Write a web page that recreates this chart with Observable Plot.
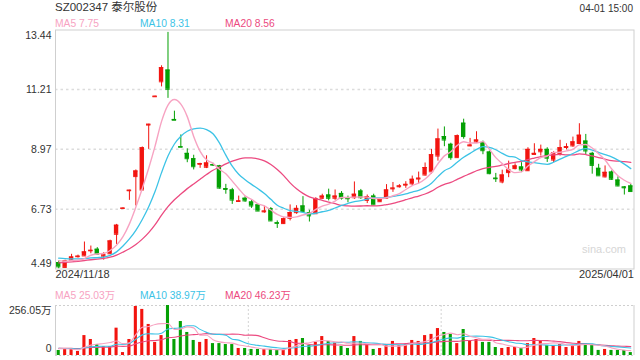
<!DOCTYPE html>
<html><head><meta charset="utf-8">
<script src="https://cdn.jsdelivr.net/npm/d3@7"></script>
<script src="https://cdn.jsdelivr.net/npm/@observablehq/plot@0.6"></script>
<style>
body{margin:0;background:#fff;}
#wrap{position:relative;width:640px;height:360px;overflow:hidden;font-family:"Liberation Sans",Arial,"Noto Sans CJK SC",sans-serif;}
.t{position:absolute;white-space:nowrap;line-height:1;}
#main,#vol{position:absolute;left:0;}
#main{top:0;} #vol{top:300px;}
</style></head><body><div id="wrap">
<div class="t" id="title" style="left:55px;top:2px;font-size:11.5px;color:#333;"></div>
<div class="t" id="time" style="right:7px;top:3.5px;font-size:10px;color:#333;"></div>
<div id="main"></div>
<div id="vol"></div>
<div class="t" id="wm" style="left:582px;top:244px;font-size:11px;color:#d6d6d6;"></div>
</div>
<script>
const title = "SZ002347 泰尔股份";
const timeLabel = "04-01 15:00";
const watermark = "sina.com";
const dateLabels = ["2024/11/18", "2025/04/01"];
const priceTicks = [13.44, 11.21, 8.97, 6.73, 4.49];
const volTicks = [256.05, 0];
const volTickLabels = ["256.05万", "0"];
const maNames = ["MA5", "MA10", "MA20"];
const maPeriods = [5, 10, 20];
const maPriceLegend = ["7.75", "8.31", "8.56"];
const maVolLegend = ["25.03万", "38.97万", "46.23万"];
const maColors = ["#f7a3c2", "#3cc3e6", "#ec4a80"];

const open = [4.73,4.55,4.82,4.95,4.98,5.17,5.23,4.97,5.06,5.79,6.76,7.42,7.95,7.45,9.88,10.94,11.50,11.94,10.09,9.07,8.82,8.62,8.41,8.30,8.40,8.35,7.50,7.45,7.02,7.14,7.00,6.89,6.63,6.75,6.22,6.19,6.39,6.60,6.85,6.59,6.56,7.14,7.26,7.14,7.32,7.14,7.16,7.41,7.06,7.22,7.01,7.14,7.49,7.57,7.63,7.68,7.86,8.01,8.13,8.72,9.45,9.16,8.66,9.95,9.10,9.24,9.23,8.87,7.89,7.75,8.10,8.25,8.31,8.17,8.78,8.88,8.97,8.57,8.82,9.04,9.10,9.19,9.28,8.82,8.26,7.94,8.12,7.82,7.56,7.60];
const high = [4.80,4.82,5.04,5.01,5.50,5.35,5.29,5.10,5.57,6.16,6.78,7.44,8.20,9.06,9.91,10.96,12.10,13.35,10.40,9.51,8.99,8.75,8.45,8.73,8.45,8.37,7.66,7.51,7.22,7.20,7.07,6.91,6.84,6.79,6.29,6.41,6.89,6.86,7.20,6.69,7.16,7.29,7.48,7.45,7.39,7.22,7.75,7.47,7.26,7.29,7.12,7.65,7.73,7.65,7.76,7.97,8.12,8.46,8.97,9.73,9.81,9.20,9.51,10.10,9.38,9.63,9.28,8.91,8.07,8.19,8.53,8.43,8.47,9.03,9.18,9.13,9.03,8.88,9.31,9.18,9.43,9.93,9.53,8.86,8.41,8.35,8.16,7.94,7.58,7.66];
const low = [4.50,4.52,4.80,4.90,4.97,5.06,5.01,4.82,5.04,5.41,6.75,7.06,6.85,7.45,8.97,10.94,11.31,10.88,10.06,9.04,8.47,8.20,8.26,8.25,8.33,7.48,7.29,6.91,7.01,6.99,6.76,6.64,6.58,6.27,6.01,6.16,6.29,6.54,6.60,6.25,6.54,7.10,7.04,7.06,7.07,6.97,7.10,7.10,6.94,6.89,6.99,7.10,7.36,7.52,7.51,7.60,7.68,7.97,8.04,8.53,9.07,8.56,8.64,9.35,9.07,9.20,8.77,8.02,7.73,7.68,7.91,8.20,8.10,8.15,8.76,8.72,8.48,8.47,8.72,8.95,9.05,9.16,8.75,8.04,7.98,7.90,7.81,7.57,7.26,7.39];
const close = [4.57,4.79,4.94,4.97,5.13,5.19,5.04,5.02,5.54,6.13,6.77,7.44,8.16,9.03,9.91,10.96,12.03,11.22,10.06,9.05,8.62,8.32,8.44,8.46,8.38,7.52,7.47,7.07,7.04,7.04,6.85,6.66,6.66,6.29,6.20,6.37,6.60,6.76,6.64,6.48,7.12,7.22,7.14,7.22,7.14,7.12,7.29,7.16,7.20,6.89,7.10,7.45,7.52,7.60,7.66,7.85,7.89,8.29,8.77,9.36,9.32,8.66,9.48,9.45,9.13,9.32,8.92,8.06,7.87,8.01,8.20,8.35,8.20,8.97,8.82,8.97,8.64,8.85,9.03,9.07,9.25,9.50,8.91,8.37,7.98,8.11,7.85,7.60,7.53,7.39];
const volume = [25.6,30.7,30.7,20.5,102,82,56,46,46,140,15,82,251,236,159,67,102,256.05,82,174,118,77,67,82,61,61,56,56,36,36,31,31,31,31,26,31,77,82,87,51,67,97,72,63,46,36,97,72,51,31,36,51,72,51,56,77,72,102,108,138,118,108,61,133,72,82,67,67,41,36,41,41,36,61,87,72,51,51,56,41,51,72,61,51,26,31,26,26,26,15];
const priorCloses = [4.52,4.55,4.50,4.58,4.60,4.53,4.57,4.55,4.54,4.56,4.95,5.02,4.98,5.03,4.97,4.90,4.85,4.88,4.81];
const priorVolumes = [38,42,35,31,40,44,36,33,39,41,37,34,45,38,36,32,40,43,35];

const RED = "#f2140f", GREEN = "#04a004";
const font = '"Liberation Sans",Arial,"Noto Sans CJK SC",sans-serif';

function movingAvg(arr, prior, n) {
  const all = prior.concat(arr);
  return arr.map((_, i) => d3.mean(all.slice(i + prior.length - n + 1, i + prior.length + 1)));
}

const data = open.map((o, i) => ({
  i, open: o, high: high[i], low: low[i], close: close[i], vol: volume[i],
  color: close[i] >= o ? RED : GREEN
}));
const maSeries = [];
const volMaSeries = [];
maPeriods.forEach((n, k) => {
  const m = movingAvg(close, priorCloses, n);
  const v = movingAvg(volume, priorVolumes, n);
  m.forEach((val, i) => maSeries.push({i, val, key: k}));
  v.forEach((val, i) => volMaSeries.push({i, val, key: k}));
});

document.getElementById("title").textContent = title;
document.getElementById("time").textContent = timeLabel;
document.getElementById("wm").textContent = watermark;

const wrap = document.getElementById("wrap");
function legendRow(values, top) {
  maNames.forEach((nm, k) => {
    const d = document.createElement("div");
    d.className = "t";
    d.style.left = (55 + 85 * k) + "px";
    d.style.top = top + "px";
    d.style.fontSize = "10.3px";
    d.style.color = maColors[k];
    d.textContent = nm + " " + values[k];
    wrap.appendChild(d);
  });
}
legendRow(maPriceLegend, 18.8);
legendRow(maVolLegend, 290.5);

const xDomain = [-0.5, data.length - 0.5];
const hw = 0.34, vw = 0.24;

const main = Plot.plot({
  width: 640, height: 285,
  marginLeft: 55, marginRight: 6.5, marginTop: 29.5, marginBottom: 16.5,
  x: {domain: xDomain, axis: null},
  y: {domain: [priceTicks[priceTicks.length - 1], priceTicks[0]], axis: null},
  style: {fontFamily: font, fontSize: "10.5px", color: "#333", background: "transparent"},
  marks: [
    Plot.ruleY(priceTicks.slice(1, -1), {stroke: "#dcdcdc", strokeWidth: 1.5, strokeDasharray: "2.5,3"}),
    Plot.frame({stroke: "#cfcfcf"}),
    Plot.text(priceTicks.slice(1, -1), {y: d => d, text: d => d.toFixed(2), frameAnchor: "left", textAnchor: "end", dx: -4, fill: "#333"}),
    Plot.text(priceTicks.slice(0, 1), {y: d => d, text: d => d.toFixed(2), frameAnchor: "left", textAnchor: "end", dx: -4, dy: 6, fill: "#333"}),
    Plot.text(priceTicks.slice(-1), {y: d => d, text: d => d.toFixed(2), frameAnchor: "left", textAnchor: "end", dx: -4, dy: -5.5, fill: "#333"}),
    Plot.text(dateLabels.slice(0, 1), {text: d => d, frameAnchor: "bottom-left", textAnchor: "start", dy: 8.5, fill: "#333", fontSize: 11}),
    Plot.text(dateLabels.slice(1), {text: d => d, frameAnchor: "bottom-right", textAnchor: "end", dy: 8.5, fill: "#333", fontSize: 11}),
    Plot.ruleX(data, {x: "i", y1: "low", y2: "high", stroke: "color", strokeWidth: 1}),
    Plot.rect(data, {x1: d => d.i - hw, x2: d => d.i + hw, y1: "open", y2: "close", fill: "color"}),
    Plot.ruleY(data, {y: "open", x1: d => d.i - hw, x2: d => d.i + hw, stroke: "color"}),
    Plot.ruleY(data, {y: "close", x1: d => d.i - hw, x2: d => d.i + hw, stroke: "color"}),
    ...[2, 1, 0].map(k => Plot.line(maSeries.filter(d => d.key === k), {x: "i", y: "val", stroke: maColors[k], strokeWidth: k === 0 ? 1.4 : 1.3, curve: "monotone-x"}))
  ]
});
document.getElementById("main").appendChild(main);

const vol = Plot.plot({
  width: 640, height: 60,
  marginLeft: 55, marginRight: 6.5, marginTop: 5, marginBottom: 5,
  x: {domain: xDomain, axis: null},
  y: {domain: [0, volTicks[0]], axis: null},
  style: {fontFamily: font, fontSize: "10.5px", color: "#333", background: "transparent"},
  marks: [
    Plot.ruleY(volTicks, {stroke: "#cfcfcf", strokeDasharray: "2,2"}),
    Plot.ruleX(xDomain, {stroke: "#cfcfcf"}),
    Plot.ruleX([xDomain[0] + data.length / 3, xDomain[0] + 2 * data.length / 3], {stroke: "#d4d4d4", strokeDasharray: "2,2"}),
    Plot.text([0], {y: () => volTicks[0], text: () => volTickLabels[0], frameAnchor: "left", textAnchor: "end", dx: -4, dy: 5, fill: "#333"}),
    Plot.text([0], {y: () => volTicks[1], text: () => volTickLabels[1], frameAnchor: "left", textAnchor: "end", dx: -4, dy: -7, fill: "#333"}),
    Plot.rect(data, {x1: d => d.i - vw, x2: d => d.i + vw, y1: 0, y2: "vol", fill: "color"}),
    ...[2, 1, 0].map(k => Plot.line(volMaSeries.filter(d => d.key === k), {x: "i", y: "val", stroke: maColors[k], strokeWidth: 1.1, curve: "monotone-x"}))
  ]
});
document.getElementById("vol").appendChild(vol);
</script>
</body></html>
